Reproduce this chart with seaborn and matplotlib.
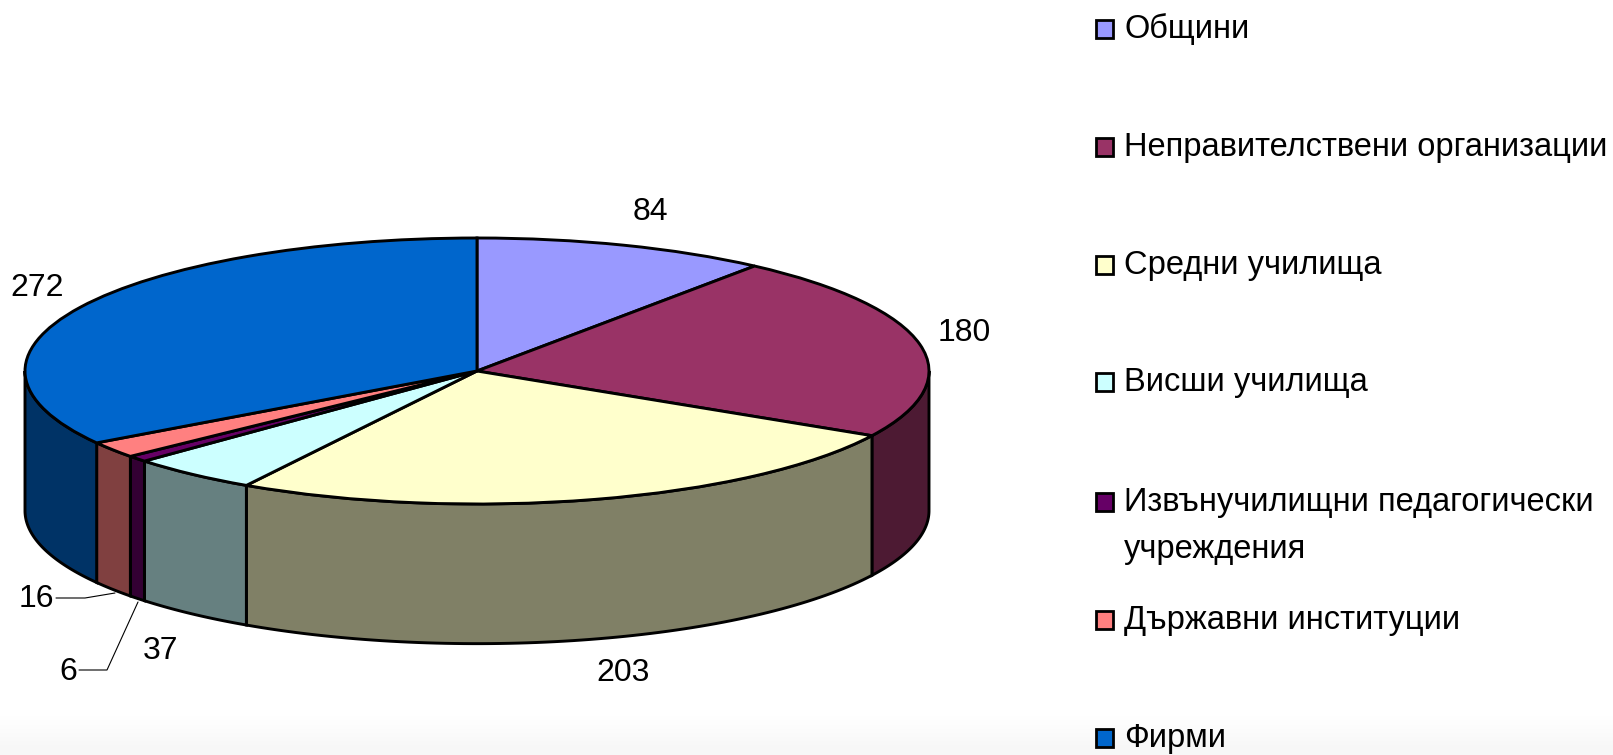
import numpy as np
import matplotlib
matplotlib.use('Agg')
import matplotlib.pyplot as plt
from matplotlib.lines import Line2D
from matplotlib.patches import Rectangle
import seaborn as sns

# chart data
categories = [
    'Общини',
    'Неправителствени организации',
    'Средни училища',
    'Висши училища',
    'Извънучилищни педагогически\nучреждения',
    'Държавни институции',
    'Фирми',
]
values = [84, 180, 203, 37, 6, 16, 272]
top_colors = ['#9999FF', '#993366', '#FFFFCC', '#CCFFFF', '#660066', '#FF8080', '#0066CC']
side_colors = ['#4D4D80', '#4D1A33', '#808066', '#668080', '#330033', '#804040', '#003366']

W, H = 1613, 755
CX, CY, RX, RY, DEPTH = 477, 371, 452, 133, 1.05

sns.set_theme(style='white')
plt.rcParams['font.family'] = ['Liberation Sans', 'DejaVu Sans']

fig = plt.figure(figsize=(W / 100, H / 100), dpi=100)

# light grey fade along the bottom edge of the picture
bg = fig.add_axes([0, 0, 1, 1], zorder=0)
bg.imshow(np.array([[1.0], [1.0], [0.985], [0.968]]), cmap='gray', vmin=0, vmax=1, aspect='auto',
          extent=(0, 1, 0, 70 / H), interpolation='bilinear')
bg.set(xlim=(0, 1), ylim=(0, 1))
bg.axis('off')

# axes covers the whole figure, unit circle gets squashed into the ellipse
ax = fig.add_axes([0, 0, 1, 1], zorder=1)
ax.patch.set_alpha(0)
wedges, _ = ax.pie(
    values,
    colors=sns.color_palette(top_colors),
    startangle=90,
    counterclock=False,
    radius=1,
    wedgeprops={'edgecolor': 'black', 'linewidth': 2.1, 'zorder': 3},
)
ax.set_aspect('auto')
ax.set_xlim(-CX / RX, (W - CX) / RX)
ax.set_ylim((CY - H) / RY, CY / RY)

# side walls, only the part of each slice on the front half
for w, c in zip(wedges, sns.color_palette(side_colors)):
    a = max(w.theta1, -180)
    b = min(w.theta2, 0)
    if a >= b:
        continue
    t = np.radians(np.linspace(a, b, 80))
    xs = np.cos(t)
    ys = np.sin(t)
    ax.fill(
        np.r_[xs, xs[::-1]],
        np.r_[ys, ys[::-1] - DEPTH],
        facecolor=c,
        edgecolor='black',
        linewidth=2.1,
        zorder=2,
    )


def px_text(x, y, s, size, **kw):
    return fig.text(x / W, 1 - y / H, s, fontsize=size, color='black', **kw)


# data labels
label_pos = [(650, 212), (964, 333), (623, 673), (161, 651), (68, 672), (36, 599), (37, 288)]
for (x, y), v in zip(label_pos, values):
    px_text(x, y, str(v), 23, ha='center', va='center')

# leader lines for the two thin slices
for pts in ([(56, 598), (85, 598), (115, 593)], [(79, 670), (107, 670), (138, 602)]):
    fig.add_artist(Line2D(
        [p[0] / W for p in pts],
        [1 - p[1] / H for p in pts],
        color='black',
        lw=0.8,
        transform=fig.transFigure,
    ))

# legend drawn by hand, the rows are not evenly spaced
swatch_y = [29, 147, 265, 382, 502, 620, 738]
for y, name, c in zip(swatch_y, categories, top_colors):
    fig.add_artist(Rectangle(
        (1096 / W, 1 - (y + 9) / H),
        17 / W,
        18 / H,
        facecolor=c,
        edgecolor='black',
        linewidth=2.0,
        transform=fig.transFigure,
    ))
    lines = name.split('\n')
    for i, line in enumerate(lines):
        px_text(1124, y + 9 + i * 47, line, 23.5, ha='left', va='baseline')

plt.savefig('out.png', dpi=100)
